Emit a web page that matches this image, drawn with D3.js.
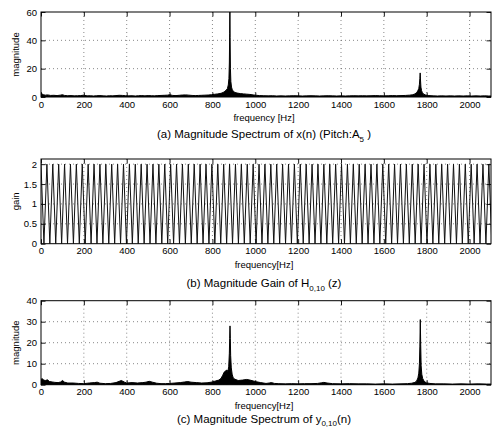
<!DOCTYPE html>
<html><head><meta charset="utf-8">
<script src="https://cdn.jsdelivr.net/npm/d3@7"></script>
<style>
body{margin:0;background:#fff}
svg{display:block}
text{font-family:"Liberation Sans",Arial,Helvetica,sans-serif;fill:#000}
</style>
</head><body>
<svg id="chart" width="493" height="430"></svg>
<script>
// ---------- data ----------
const xTicks = [0,200,400,600,800,1000,1200,1400,1600,1800,2000];
const yTicksA = [0,20,40,60];
const yTicksB = [0,0.5,1,1.5,2];
const yTicksC = [0,10,20,30,40];

// (a) magnitude spectrum of x(n): [frequency Hz, magnitude]
const spectrumA = [
 [0,3.2],[5,2.0],[12,1.6],[20,1.3],[30,1.5],[45,1.1],[60,1.2],[75,1.0],[90,1.3],[100,1.6],
 [110,1.1],[125,0.9],[140,1.0],[155,0.8],[170,0.9],[185,1.0],[200,1.3],[215,0.8],[230,0.9],[245,0.7],
 [260,0.9],[275,1.0],[290,0.8],[305,0.7],[320,0.9],[335,0.8],[350,1.0],[365,1.2],[380,1.1],[395,0.9],
 [410,0.8],[425,0.9],[440,0.7],[455,0.9],[470,1.0],[485,0.8],[500,1.0],[515,0.9],[530,0.8],[545,1.0],
 [560,1.1],[575,1.2],[590,1.3],[600,1.6],[615,1.1],[630,1.0],[645,1.2],[660,1.4],[675,1.5],[690,1.3],
 [705,1.1],[720,1.0],[735,1.1],[750,1.2],[765,1.3],[780,1.4],[795,1.6],[810,1.9],[825,2.2],[840,2.6],
 [850,3.2],[858,4.0],[865,5.0],[870,6.0],[874,8.5],[877,13],[879,24],[880.5,45],[881.5,65],[882.5,42],
 [884,20],[886,11],[889,7],[893,5],[898,4],[905,3.2],[915,2.8],[930,2.4],[945,2.2],[960,2.0],
 [975,1.8],[990,1.5],[1005,1.2],[1020,1.0],[1040,0.9],[1060,0.8],[1080,0.9],[1100,0.7],[1120,0.8],[1140,0.7],
 [1160,0.8],[1180,0.9],[1200,0.8],[1220,0.7],[1240,0.8],[1260,0.9],[1280,0.8],[1300,0.7],[1320,0.8],[1340,0.9],
 [1360,0.8],[1380,0.7],[1400,0.8],[1420,0.7],[1440,0.8],[1460,0.9],[1480,0.8],[1500,0.9],[1520,0.8],[1540,0.9],
 [1560,1.0],[1580,0.9],[1600,0.8],[1620,0.9],[1640,1.0],[1660,0.9],[1680,1.0],[1700,1.1],[1720,1.3],[1735,1.6],
 [1745,2.2],[1752,3.0],[1758,4.2],[1763,6],[1766,9],[1768,13],[1769.5,17],[1771,12],[1773,7],[1776,4.5],
 [1780,3.0],[1786,2.0],[1795,1.4],[1810,1.0],[1830,0.8],[1850,0.7],[1870,0.8],[1890,0.7],[1910,0.8],[1930,0.7],
 [1950,0.8],[1970,0.7],[1990,0.8],[2010,0.7],[2030,0.8],[2050,0.7],[2070,0.8],[2090,0.7],[2100,0.7]
];

// (b) magnitude gain of H_{0,10}(z): frequencies of the maxima (gain 2) and of the zeros (gain 0)
const gainPeakFreq = [0,27.5,55,82.5,110,137.5,165,192.5,220,247.5,275,302.5,330,357.5,385,412.5,440,467.5,495,522.5,
 550,577.5,605,632.5,660,687.5,715,742.5,770,797.5,825,852.5,880,907.5,935,962.5,990,1017.5,1045,1072.5,
 1100,1127.5,1155,1182.5,1210,1237.5,1265,1292.5,1320,1347.5,1375,1402.5,1430,1457.5,1485,1512.5,1540,1567.5,1595,1622.5,
 1650,1677.5,1705,1732.5,1760,1787.5,1815,1842.5,1870,1897.5,1925,1952.5,1980,2007.5,2035,2062.5,2090];
const gainZeroFreq = [13.75,41.25,68.75,96.25,123.75,151.25,178.75,206.25,233.75,261.25,288.75,316.25,343.75,371.25,398.75,
 426.25,453.75,481.25,508.75,536.25,563.75,591.25,618.75,646.25,673.75,701.25,728.75,756.25,783.75,811.25,838.75,866.25,
 893.75,921.25,948.75,976.25,1003.75,1031.25,1058.75,1086.25,1113.75,1141.25,1168.75,1196.25,1223.75,1251.25,1278.75,
 1306.25,1333.75,1361.25,1388.75,1416.25,1443.75,1471.25,1498.75,1526.25,1553.75,1581.25,1608.75,1636.25,1663.75,1691.25,
 1718.75,1746.25,1773.75,1801.25,1828.75,1856.25,1883.75,1911.25,1938.75,1966.25,1993.75,2021.25,2048.75,2076.25,2103.75];
const gainMax = 2, gainMin = 0;

// (c) magnitude spectrum of y_{0,10}(n): [frequency Hz, magnitude]
const spectrumC = [
 [0,2.5],[6,2.9],[12,2.2],[20,2.0],[30,2.3],[40,1.5],[52,1.3],[65,1.1],[80,1.0],[92,1.3],
 [100,2.0],[110,1.2],[125,0.8],[150,0.8],[175,0.6],[200,0.5],[225,0.8],[250,1.0],[262,1.2],[275,0.7],
 [300,0.5],[325,0.6],[350,1.0],[365,1.6],[375,2.0],[390,1.2],[400,0.8],[425,1.0],[450,0.8],[475,1.0],
 [490,1.2],[505,1.6],[520,1.2],[540,0.7],[560,0.5],[580,0.5],[600,0.6],[625,0.8],[650,1.0],[670,1.3],
 [685,1.5],[700,1.2],[725,1.0],[750,0.8],[775,0.9],[800,1.3],[815,1.8],[830,2.2],[840,3.0],[848,4.5],
 [855,6.0],[862,6.6],[868,7.0],[872,6.3],[876,8.5],[879,15],[880.5,22],[882,28],[883.5,22],[885,14],
 [888,8],[892,5],[897,3.2],[905,2.6],[920,2.0],[940,2.2],[960,2.5],[975,2.2],[990,1.8],[1005,1.4],
 [1025,1.0],[1050,0.6],[1065,0.8],[1075,1.0],[1090,0.6],[1110,0.5],[1140,0.4],[1170,0.5],[1200,0.4],[1230,0.5],
 [1260,0.5],[1290,0.6],[1310,0.9],[1320,1.1],[1335,0.8],[1360,0.5],[1400,0.4],[1440,0.5],[1480,0.4],[1520,0.4],
 [1560,0.3],[1600,0.4],[1640,0.3],[1680,0.4],[1710,0.5],[1730,0.7],[1745,1.1],[1753,1.8],[1759,3.2],[1763,5.5],
 [1766,10],[1768,18],[1770,31],[1772,19],[1774,9],[1777,5],[1781,3],[1788,1.6],[1798,0.9],[1815,0.6],
 [1840,0.4],[1880,0.4],[1920,0.3],[1960,0.4],[2000,0.3],[2040,0.4],[2080,0.3],[2100,0.3]
];

// ---------- layout ----------
const svg = d3.select("#chart");
const L = 41, R = 491;
const x = d3.scaleLinear().domain([0,2100]).range([L,R]);
const fontTick = 9.5, fontLabel = 9.5, fontTitle = 11.5;

const panels = [
  {top:12, bottom:97, ymax:60, yTicks:yTicksA, ylabel:"magnitude", xlabel:"frequency [Hz]", titleY:134,
   title:[["(a) Magnitude Spectrum of x(n) (Pitch:A",0],["5",1],[" )",-1]]},
  {top:159, bottom:243.7, ymax:2.13, yTicks:yTicksB, ylabel:"gain", xlabel:"frequency[Hz]", titleY:283,
   title:[["(b) Magnitude Gain of H",0],["0,10",1],[" (z)",-1]]},
  {top:300.7, bottom:384.7, ymax:40, yTicks:yTicksC, ylabel:"magnitude", xlabel:"frequency[Hz]", titleY:418.5,
   title:[["(c) Magnitude Spectrum of y",0],["0,10",1],["(n)",-1]]}
];

panels.forEach((p,i) => {
  const y = d3.scaleLinear().domain([0,p.ymax]).range([p.bottom,p.top]);
  const g = svg.append("g");
  const clipId = "clip"+i;
  svg.append("clipPath").attr("id",clipId).append("rect")
    .attr("x",L).attr("y",p.top).attr("width",R-L).attr("height",p.bottom-p.top);

  // grid
  const grid = g.append("g").attr("stroke","#555").attr("stroke-width",0.7).attr("stroke-dasharray","1,3");
  xTicks.filter(t=>t>0).forEach(t=>{
    grid.append("line").attr("x1",x(t)).attr("x2",x(t)).attr("y1",p.top).attr("y2",p.bottom);
  });
  p.yTicks.filter(t=>t>0 && t<p.ymax-1e-9).forEach(t=>{
    grid.append("line").attr("x1",L).attr("x2",R).attr("y1",y(t)).attr("y2",y(t));
  });

  // data
  const dg = g.append("g").attr("clip-path",`url(#${clipId})`);
  if (i === 0 || i === 2) {
    const data = i===0 ? spectrumA : spectrumC;
    const area = d3.area().x(d=>x(d[0])).y0(y(0)).y1(d=>y(d[1]));
    dg.append("path").datum(data).attr("d",area).attr("fill","#000")
      .attr("stroke","#000").attr("stroke-width",1).attr("stroke-linejoin","round");
  } else {
    const pts = gainPeakFreq.map(f=>[f,gainMax]).concat(gainZeroFreq.map(f=>[f,gainMin]))
      .sort((a,b)=>a[0]-b[0]);
    const line = d3.line().x(d=>x(d[0])).y(d=>y(d[1]));
    dg.append("path").datum(pts).attr("d",line).attr("fill","none")
      .attr("stroke","#111").attr("stroke-width",1);
  }

  // axes (inward ticks, MATLAB style)
  const tk = 4.5;
  const ax = g.append("g").attr("transform",`translate(0,${p.bottom})`)
    .call(d3.axisBottom(x).tickValues(xTicks).tickSize(-tk).tickPadding(4).tickFormat(d3.format("d")));
  const axT = g.append("g").attr("transform",`translate(0,${p.top})`)
    .call(d3.axisTop(x).tickValues(xTicks).tickSize(-tk).tickFormat(""));
  const fmtY = d3.format("~g");
  const ay = g.append("g").attr("transform",`translate(${L},0)`)
    .call(d3.axisLeft(y).tickValues(p.yTicks).tickSize(-tk).tickPadding(4).tickFormat(fmtY));
  const ayR = g.append("g").attr("transform",`translate(${R},0)`)
    .call(d3.axisRight(y).tickValues(p.yTicks).tickSize(-tk).tickFormat(""));
  [ax,axT,ay,ayR].forEach(a=>{
    a.select(".domain").remove();
    a.selectAll("line").attr("stroke","#000").attr("stroke-width",0.9);
    a.selectAll("text").attr("font-size",fontTick).attr("font-family",null);
  });

  // frame
  g.append("rect").attr("x",L).attr("y",p.top).attr("width",R-L).attr("height",p.bottom-p.top)
    .attr("fill","none").attr("stroke","#000").attr("stroke-width",1);

  // labels
  g.append("text").attr("x",(L+R)/2 - 2).attr("y",p.bottom+21).attr("dy","0.35em")
    .attr("text-anchor","middle").attr("font-size",fontLabel).text(p.xlabel);
  g.append("text").attr("transform",`translate(16,${(p.top+p.bottom)/2}) rotate(-90)`)
    .attr("text-anchor","middle").attr("dy","0.35em").attr("font-size",fontLabel).text(p.ylabel);

  const t = g.append("text").attr("x",264).attr("y",p.titleY).attr("dy","0.35em")
    .attr("text-anchor","middle").attr("font-size",fontTitle);
  p.title.forEach(([s,sub])=>{
    const ts = t.append("tspan").text(s);
    if (sub===1) ts.attr("dy",3.5).attr("font-size",8);
    if (sub===-1) ts.attr("dy",-3.5);
  });
});
</script>
</body></html>
